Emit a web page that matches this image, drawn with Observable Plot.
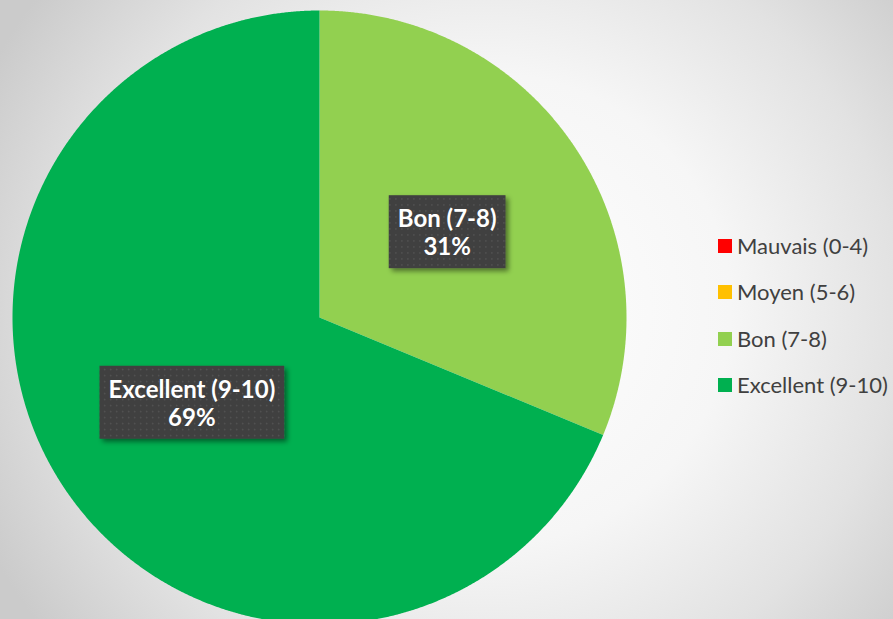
<!DOCTYPE html>
<html>
<head>
<meta charset="utf-8">
<script src="https://cdn.jsdelivr.net/npm/d3@7"></script>
<script src="https://cdn.jsdelivr.net/npm/@observablehq/plot@0.6"></script>
<style>
  html, body { margin: 0; padding: 0; overflow: hidden; }
  body {
    width: 893px; height: 619px; position: relative;
    background: radial-gradient(ellipse 62% 85% at 54% 50%, #ffffff 0%, #f6f6f6 45%, #e2e2e2 75%, #cbcbcb 100%);
    font-family: Lato, "Open Sans", sans-serif;
  }
  #chart { position: absolute; left: 0; top: 0; }
  #legend { position: absolute; left: 718px; top: 223px; }
  .row { display: flex; align-items: center; height: 46.3px; }
  .sw { width: 14px; height: 14px; margin-right: 5px; flex: none; }
  .lbl { font-size: 22px; color: #404040; line-height: 1; white-space: nowrap; }
</style>
</head>
<body>
<div id="chart"></div>
<div id="legend"></div>
<script>
// Data
const categories = ["Mauvais (0-4)", "Moyen (5-6)", "Bon (7-8)", "Excellent (9-10)"];
const counts = [0, 0, 5, 11];
const colors = ["#FF0000", "#FFC000", "#92D050", "#00B050"];

const total = d3.sum(counts);
const pie = d3.pie().sort(null).value(d => d.value)(categories.map((c, i) => ({cat: c, value: counts[i]})));

// polygon points for each slice (angle 0 = 12 o'clock, clockwise)
const pts = [];
for (const s of pie) {
  if (s.endAngle - s.startAngle <= 0) continue;
  const n = Math.max(2, Math.ceil((s.endAngle - s.startAngle) / (Math.PI / 720)));
  pts.push({cat: s.data.cat, x: 0, y: 0});
  for (let k = 0; k <= n; k++) {
    const a = s.startAngle + (s.endAngle - s.startAngle) * k / n;
    pts.push({cat: s.data.cat, x: Math.sin(a), y: Math.cos(a)});
  }
  pts.push({cat: s.data.cat, x: 0, y: 0});
}
const labels = pie.filter(s => s.value > 0).map(s => {
  const a = (s.startAngle + s.endAngle) / 2;
  return {x: 0.5 * Math.sin(a), y: 0.5 * Math.cos(a),
          text: `${s.data.cat}\n${Math.round(100 * s.value / total)}%`};
});

const chart = Plot.plot({
  width: 893, height: 619,
  margin: 0,
  x: {domain: [-1, 1], range: [12, 626], axis: null},
  y: {domain: [-1, 1], range: [624, 10], axis: null},
  color: {domain: categories, range: colors},
  style: {background: "transparent", overflow: "visible"},
  marks: [
    Plot.line(pts, {x: "x", y: "y", z: "cat", fill: "cat", stroke: null}),
    Plot.text(labels, {x: "x", y: "y", text: "text", fill: "white", fontWeight: "bold",
      fontSize: 24, lineHeight: 1.17, fontFamily: "Lato, 'Open Sans', sans-serif", className: "plabel"})
  ]
});
document.getElementById("chart").appendChild(chart);

// label boxes (styling behind the text)
const svgNS = "http://www.w3.org/2000/svg";
const defs = document.createElementNS(svgNS, "defs");
defs.innerHTML = `
  <pattern id="dots" width="6" height="6" patternUnits="userSpaceOnUse">
    <rect width="6" height="6" fill="#3f3f3f"/>
    <rect x="2" y="2" width="1.5" height="1.5" fill="#555"/>
  </pattern>
  <filter id="shadow" x="-20%" y="-20%" width="150%" height="160%">
    <feDropShadow dx="3" dy="3" stdDeviation="2.5" flood-color="#000" flood-opacity="0.45"/>
  </filter>`;
chart.insertBefore(defs, chart.firstChild);
chart.querySelectorAll("g.plabel text").forEach(t => {
  const b = t.getBBox();
  const r = document.createElementNS(svgNS, "rect");
  const cx = b.x + b.width / 2, cy = b.y + b.height / 2;
  const w = b.width + 18, h = 73;
  r.setAttribute("x", cx - w / 2);
  r.setAttribute("y", cy - h / 2);
  r.setAttribute("width", w);
  r.setAttribute("height", h);
  r.setAttribute("fill", "url(#dots)");
  r.setAttribute("filter", "url(#shadow)");
  const tr = t.getAttribute("transform");
  if (tr) r.setAttribute("transform", tr);
  t.parentNode.insertBefore(r, t);
});

// legend
const leg = document.getElementById("legend");
categories.forEach((c, i) => {
  const row = document.createElement("div");
  row.className = "row";
  row.innerHTML = `<div class="sw" style="background:${colors[i]}"></div><div class="lbl">${c}</div>`;
  leg.appendChild(row);
});
</script>
</body>
</html>
